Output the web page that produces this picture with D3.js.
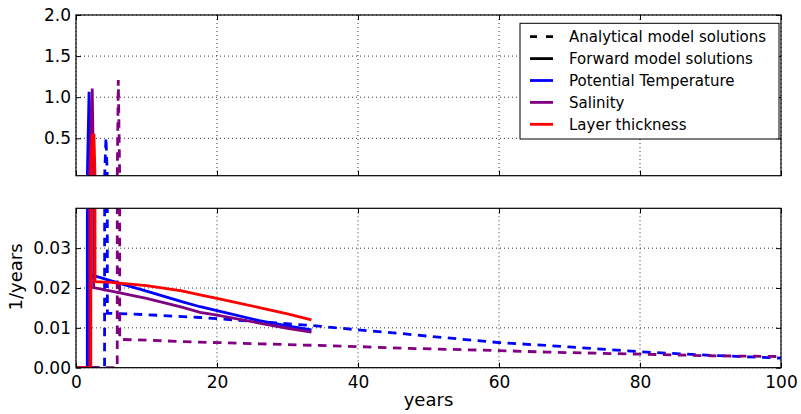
<!DOCTYPE html>
<html>
<head>
<meta charset="utf-8">
<script src="https://cdn.jsdelivr.net/npm/d3@7"></script>
<style>
  body { margin: 0; background: #fff; }
  svg { display: block; }
  text { font-family: "DejaVu Sans", sans-serif; fill: #000; }
</style>
</head>
<body>
<svg id="chart" width="801" height="414"></svg>
<script>
// ---------------- data ----------------
const xTicks = [0, 20, 40, 60, 80, 100];
const topYTicks = [0.5, 1.0, 1.5, 2.0];
const botYTicks = [0.00, 0.01, 0.02, 0.03];

// Forward model solutions (solid)
const tTempFwd = [0, 1.6, 1.85, 2.1, 2.9, 5, 10, 15, 17.6, 20, 26, 30, 33.4];
const vTempFwd = [0, 0, 1.065, 0.0229, 0.0229, 0.0218, 0.0192, 0.0166, 0.0153, 0.0143, 0.0118, 0.0105, 0.0095];

const tSaltFwd = [0, 1.9, 2.3, 2.5, 5, 10, 15, 17.6, 20, 26, 30, 33.4];
const vSaltFwd = [0, 0, 1.106, 0.0201, 0.0192, 0.0174, 0.0152, 0.0139, 0.0132, 0.0112, 0.0099, 0.0089];

const tThickFwd = [0, 2.1, 2.3, 2.55, 2.7, 5, 10, 15, 17.6, 20, 26, 30, 33.4];
const vThickFwd = [0, 0, 0.537, 0.537, 0.0216, 0.0214, 0.0206, 0.0193, 0.0183, 0.0174, 0.0151, 0.0135, 0.0120];

// Analytical model solutions (dashed)
const tTempAna = [0, 4.05, 4.25, 4.45, 10, 17.6, 20, 24.7, 33.4, 40, 46, 50, 60, 67.5, 70, 80, 90, 100];
const vTempAna = [0, 0, 0.51, 0.0137, 0.0133, 0.0126, 0.0123, 0.0117, 0.0106, 0.0095, 0.0086, 0.0079, 0.0063, 0.0055, 0.0052, 0.0040, 0.0031, 0.0024];

const tSaltAna = [0, 5.85, 6.0, 6.2, 10, 17.6, 20, 26, 40, 46, 60, 67, 80, 90, 100];
const vSaltAna = [0, 0, 1.21, 0.0071, 0.0069, 0.0064, 0.0063, 0.0060, 0.0053, 0.0049, 0.0043, 0.0039, 0.0034, 0.0030, 0.0028];

const legendLabels = ["Analytical model solutions", "Forward model solutions", "Potential Temperature", "Salinity", "Layer thickness"];
const legendColors = ["#000000", "#000000", "#0000ff", "#800080", "#ff0000"];
const legendDashed = [true, false, false, false, false];

// ---------------- drawing ----------------
const svg = d3.select("#chart");
const X0 = 76, X1 = 781;
const x = d3.scaleLinear().domain([0, 100]).range([X0, X1]);
const panels = [
  { y: d3.scaleLinear().domain([0.045, 2.0]).range([175.7, 15]), ticks: topYTicks, fmt: d3.format(".1f"), xLabels: false, id: "top" },
  { y: d3.scaleLinear().domain([0, 0.04]).range([367.7, 208.3]), ticks: botYTicks, fmt: d3.format(".2f"), xLabels: true, id: "bot" }
];

const series = [
  { t: tTempFwd, v: vTempFwd, color: "#0000ff", dash: null },
  { t: tTempAna, v: vTempAna, color: "#0000ff", dash: "8.5,6.5" },
  { t: tSaltFwd, v: vSaltFwd, color: "#800080", dash: null },
  { t: tSaltAna, v: vSaltAna, color: "#800080", dash: "8.5,6.5" },
  { t: tThickFwd, v: vThickFwd, color: "#ff0000", dash: null }
];

const FS = 17;

panels.forEach(p => {
  const [yb, yt] = p.y.range();
  const g = svg.append("g");
  g.append("clipPath").attr("id", "clip-" + p.id)
    .append("rect").attr("x", X0).attr("y", yt).attr("width", X1 - X0).attr("height", yb - yt);

  // grid
  g.append("g").selectAll("line").data(xTicks).join("line")
    .attr("x1", d => x(d)).attr("x2", d => x(d)).attr("y1", yt).attr("y2", yb)
    .attr("stroke", "#000").attr("stroke-width", 0.8).attr("stroke-dasharray", "1,3");
  g.append("g").selectAll("line").data(p.ticks).join("line")
    .attr("x1", X0).attr("x2", X1).attr("y1", d => p.y(d)).attr("y2", d => p.y(d))
    .attr("stroke", "#000").attr("stroke-width", 0.8).attr("stroke-dasharray", "1,3");

  // lines
  const lg = g.append("g").attr("clip-path", `url(#clip-${p.id})`);
  series.forEach(s => {
    const pts = s.t.map((t, i) => [t, s.v[i]]);
    lg.append("path").datum(pts)
      .attr("d", d3.line().x(d => x(d[0])).y(d => p.y(d[1])))
      .attr("fill", "none").attr("stroke", s.color).attr("stroke-width", 2.8)
      .attr("stroke-dasharray", s.dash).attr("stroke-linejoin", "miter");
  });

  // axes (ticks inward on all sides)
  const ax = g.append("g").attr("transform", `translate(0,${yb})`)
    .call(d3.axisBottom(x).tickValues(xTicks).tickSizeInner(-5).tickSizeOuter(0).tickPadding(8)
      .tickFormat(p.xLabels ? d3.format("d") : () => ""));
  const axT = g.append("g").attr("transform", `translate(0,${yt})`)
    .call(d3.axisTop(x).tickValues(xTicks).tickSizeInner(-5).tickSizeOuter(0).tickFormat(() => ""));
  const ayL = g.append("g").attr("transform", `translate(${X0},0)`)
    .call(d3.axisLeft(p.y).tickValues(p.ticks).tickSizeInner(-5).tickSizeOuter(0).tickPadding(5).tickFormat(p.fmt));
  const ayR = g.append("g").attr("transform", `translate(${X1},0)`)
    .call(d3.axisRight(p.y).tickValues(p.ticks).tickSizeInner(-5).tickSizeOuter(0).tickFormat(() => ""));
  [ax, axT, ayL, ayR].forEach(a => {
    a.select(".domain").remove();
    a.selectAll("line").attr("stroke", "#000").attr("stroke-width", 1);
    a.selectAll("text").attr("font-size", FS).attr("font-family", "DejaVu Sans").attr("fill", "#000");
  });

  // frame
  g.append("rect").attr("x", X0).attr("y", yt).attr("width", X1 - X0).attr("height", yb - yt)
    .attr("fill", "none").attr("stroke", "#000").attr("stroke-width", 1.2);
});

// axis labels
svg.append("text").attr("x", (X0 + X1) / 2).attr("y", 406).attr("text-anchor", "middle")
  .attr("font-size", 18).text("years");
svg.append("text").attr("transform", "translate(22,277) rotate(-90)").attr("text-anchor", "middle")
  .attr("font-size", 18).text("1/years");

// legend
const L = svg.append("g");
L.append("rect").attr("x", 520).attr("y", 23.3).attr("width", 259).attr("height", 115.7)
  .attr("fill", "#fff").attr("stroke", "#000").attr("stroke-width", 1);
legendLabels.forEach((lab, i) => {
  const cy = 36.7 + i * 21.9;
  L.append("line").attr("x1", 530).attr("x2", 553).attr("y1", cy).attr("y2", cy)
    .attr("stroke", legendColors[i]).attr("stroke-width", 2.8)
    .attr("stroke-dasharray", legendDashed[i] ? "7,9" : null);
  L.append("text").attr("x", 569).attr("y", cy + 5.3).attr("font-size", 15).text(lab);
});
</script>
</body>
</html>
